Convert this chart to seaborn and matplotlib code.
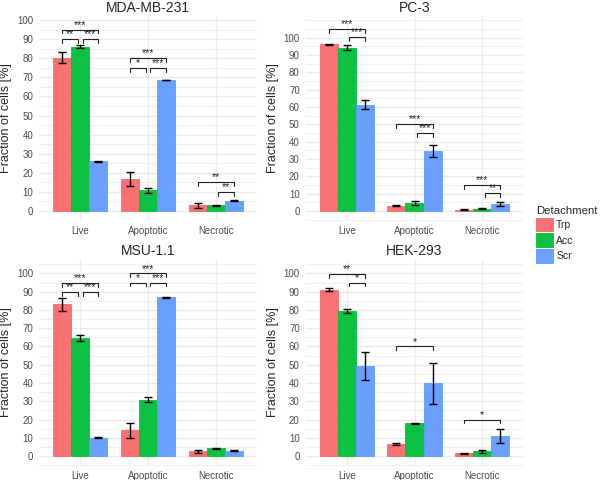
import numpy as np
import pandas as pd
import seaborn as sns
import matplotlib.pyplot as plt
from matplotlib.patches import Patch
from matplotlib.ticker import MultipleLocator, FixedLocator
from matplotlib.colors import to_rgba

categories = ['Live', 'Apoptotic', 'Necrotic']
methods = ['Trp', 'Acc', 'Scr']
colors = ['#F8696B', '#00BF38', '#629BFF']

# means: one row per category, columns Trp / Acc / Scr
mda_mean = [[80.3, 85.9, 26.0], [16.7, 10.8, 68.6], [2.9, 2.9, 5.4]]
mda_err = [[3.0, 0.8, 0.25], [3.8, 1.2, 0.2], [1.3, 0.4, 0.2]]
pc3_mean = [[96.2, 94.2, 61.3], [3.1, 4.6, 34.6], [0.8, 1.2, 4.0]]
pc3_err = [[0.25, 1.4, 2.6], [0.25, 1.2, 3.5], [0.15, 0.3, 1.3]]
msu_mean = [[83.0, 64.6, 10.0], [14.2, 30.8, 86.9], [2.7, 4.2, 2.9]]
msu_err = [[3.6, 1.6, 0.2], [4.1, 1.4, 0.2], [0.8, 0.2, 0.2]]
hek_mean = [[91.2, 79.6, 49.1], [6.75, 17.9, 39.8], [1.5, 2.6, 11.0]]
hek_err = [[1.0, 1.0, 7.7], [0.6, 0.3, 11.3], [0.3, 0.7, 3.6]]

# significance brackets: (category, from method, to method, height, label)
mda_sig = [(0, 0, 1, 90, '**'), (0, 1, 2, 90, '***'), (0, 0, 2, 95, '***'),
           (1, 0, 1, 75, '*'), (1, 1, 2, 75, '***'), (1, 0, 2, 80.3, '***'),
           (2, 0, 2, 15, '**'), (2, 1, 2, 10.1, '**')]
pc3_sig = [(0, 0, 2, 105, '***'), (0, 1, 2, 100.2, '***'),
           (1, 0, 2, 50, '***'), (1, 1, 2, 45.2, '***'),
           (2, 0, 2, 15, '***'), (2, 1, 2, 10.2, '**')]
msu_sig = [(0, 0, 1, 90, '**'), (0, 1, 2, 90, '***'), (0, 0, 2, 94.9, '***'),
           (1, 0, 1, 95, '*'), (1, 1, 2, 95, '***'), (1, 0, 2, 100, '***')]
hek_sig = [(0, 0, 2, 99.6, '**'), (0, 1, 2, 95, '*'),
           (1, 0, 2, 60, '*'), (2, 0, 2, 20, '*')]

panels = [
    ('MDA-MB-231', mda_mean, mda_err, mda_sig, (-4.97, 102.1), [0.0658, 0.5406, 0.3617, 0.426]),
    ('PC-3', pc3_mean, pc3_err, pc3_sig, (-5.48, 112.5), [0.51, 0.5406, 0.3617, 0.426]),
    ('MSU-1.1', msu_mean, msu_err, msu_sig, (-5.2, 107.6), [0.0658, 0.0302, 0.3617, 0.429]),
    ('HEK-293', hek_mean, hek_err, hek_sig, (-5.2, 107.6), [0.51, 0.0302, 0.3617, 0.429]),
]

sns.set_theme(style='whitegrid')
plt.rcParams['font.family'] = ['Liberation Sans', 'DejaVu Sans']

fig = plt.figure(figsize=(6, 4.8), dpi=100)

for title, mean, err, sig, ylim, rect in panels:
    ax = fig.add_axes(rect)
    df = pd.DataFrame([(categories[i], methods[j], mean[i][j], err[i][j])
                       for i in range(3) for j in range(3)],
                      columns=['category', 'method', 'value', 'err'])
    sns.barplot(data=df, x='category', y='value', hue='method', order=categories,
                hue_order=methods, palette=colors, saturation=1, errorbar=None,
                width=0.8, legend=False, ax=ax, zorder=2)

    # bar centres from the drawn containers
    bar_conts = list(ax.containers)
    centres = {}
    for j, cont in enumerate(bar_conts):
        for i, bar in enumerate(cont.patches):
            c = bar.get_facecolor()
            bar.set_facecolor(to_rgba(c, 0.95))
            bar.set_edgecolor(to_rgba(c, 1))
            bar.set_linewidth(0.6)
            xc = bar.get_x() + bar.get_width() / 2
            centres[(i, j)] = xc
            ax.errorbar(xc, mean[i][j], yerr=err[i][j], fmt='none', ecolor='black',
                        elinewidth=1.0, capsize=3.0, capthick=1.0, zorder=3)

    tick = 0.019 * (ylim[1] - ylim[0])
    gap = 0.035
    for i, a, b, y, lab in sig:
        x1 = centres[(i, a)]
        x2 = centres[(i, b)]
        if (a, b) == (0, 1):
            x2 -= gap
        if (a, b) == (1, 2):
            x1 += gap
        ax.plot([x1, x1, x2, x2], [y - tick, y, y, y - tick], color='#222222',
                lw=0.8, zorder=4, clip_on=False)
        ax.annotate(lab, ((x1 + x2) / 2, y), xytext=(0, 3.5), textcoords='offset points',
                    ha='center', va='center', fontsize=7.5, color='#222222')

    ax.set_xlim(-0.6, 2.6)
    ax.set_ylim(*ylim)
    ax.yaxis.set_major_locator(FixedLocator(np.arange(0, 101, 10)))
    ax.yaxis.set_minor_locator(MultipleLocator(5))
    ax.set_facecolor('white')
    ax.grid(which='major', axis='both', color='#EBEBEB', lw=1.0, zorder=0)
    ax.grid(which='minor', axis='y', color='#F0F0F0', lw=0.8, zorder=0)
    ax.set_axisbelow(True)
    for s in ax.spines.values():
        s.set_visible(False)
    ax.tick_params(axis='both', which='both', length=0, labelsize=7,
                   labelcolor='#4D4D4D')
    ax.tick_params(axis='y', pad=4.5)
    ax.tick_params(axis='x', pad=4)
    ax.set_xlabel('')
    ax.set_ylabel('Fraction of cells [%]', fontsize=9, labelpad=3.5)
    ax.set_title(title, fontsize=10, pad=3)

handles = [Patch(facecolor=to_rgba(c, 0.95), edgecolor=c, lw=0.6) for c in colors]
fig.legend(handles, methods, title='Detachment', loc='upper left',
           bbox_to_anchor=(0.893, 1 - 205.5 / 480), frameon=False, fontsize=7.5,
           title_fontsize=8.2, handlelength=1.65, handleheight=1.65,
           labelspacing=0.2, handletextpad=0.3, borderpad=0, borderaxespad=0,
           alignment='left')

fig.savefig('out.png', dpi=100)
